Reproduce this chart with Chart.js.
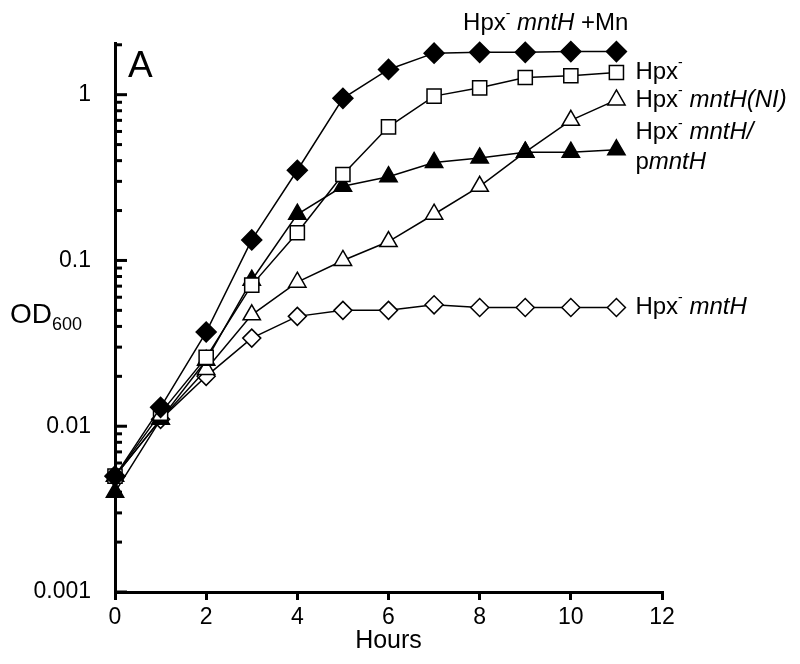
<!DOCTYPE html>
<html>
<head>
<meta charset="utf-8">
<script src="https://cdn.jsdelivr.net/npm/chart.js@4.4.1/dist/chart.umd.min.js"></script>
<style>
  html, body { margin: 0; padding: 0; background: #fff; }
</style>
</head>
<body>
<canvas id="chart" width="800" height="664"></canvas>
<script>
'use strict';

var FONT = '"Liberation Sans", Arial, sans-serif';

// growth curves, OD600 per hour
var hours = [0, 1, 2, 3, 4, 5, 6, 7, 8, 9, 10, 11];
var mntHMn = [0.005, 0.013, 0.037, 0.133, 0.35, 0.95, 1.42, 1.78, 1.8, 1.8, 1.82, 1.82];
var hpx = [0.005, 0.012, 0.026, 0.071, 0.147, 0.33, 0.64, 0.98, 1.1, 1.27, 1.3, 1.36];
var mntHNI = [0.005, 0.011, 0.022, 0.047, 0.074, 0.1, 0.13, 0.19, 0.28, 0.45, 0.70, 0.93];
var mntHComp = [0.004, 0.011, 0.025, 0.076, 0.19, 0.28, 0.32, 0.39, 0.415, 0.45, 0.45, 0.465];
var mntH = [0.005, 0.011, 0.020, 0.034, 0.046, 0.050, 0.050, 0.054, 0.052, 0.052, 0.052, 0.052];

var xTicks = [0, 2, 4, 6, 8, 10, 12];
var yLabels = [0.001, 0.01, 0.1, 1];

function pts(vals) {
    return vals.map(function(v, i) { return {x: hours[i], y: v}; });
}

function series(label, vals, shape, filled, radius) {
    return {
        label: label,
        data: pts(vals),
        borderColor: '#000',
        borderWidth: 1.5,
        pointStyle: shape,
        pointRadius: radius,
        pointBorderColor: '#000',
        pointBorderWidth: 1.5,
        pointBackgroundColor: filled ? '#000' : '#fff',
        tension: 0,
        clip: false
    };
}

// text made of pieces: [text, 'n' normal | 'i' italic | 's' superscript]
function richWidth(ctx, parts, size) {
    var w = 0;
    parts.forEach(function(p) {
        ctx.font = pieceFont(p[1], size);
        w += ctx.measureText(p[0]).width;
    });
    return w;
}

function pieceFont(kind, size) {
    if (kind == 'i') return 'italic ' + size + 'px ' + FONT;
    if (kind == 's') return Math.round(size * 0.6) + 'px ' + FONT;
    return size + 'px ' + FONT;
}

function drawRich(ctx, parts, x, y, size, align) {
    var w = richWidth(ctx, parts, size);
    var cx = align == 'right' ? x - w : x;
    ctx.textBaseline = 'middle';
    ctx.textAlign = 'left';
    parts.forEach(function(p) {
        ctx.font = pieceFont(p[1], size);
        ctx.fillText(p[0], cx, p[1] == 's' ? y - size * 0.38 : y);
        cx += ctx.measureText(p[0]).width;
    });
}

var extras = {
    id: 'extras',
    afterDraw: function(chart) {
        var ctx = chart.ctx, xs = chart.scales.x, ys = chart.scales.y;
        var left = chart.chartArea.left;
        ctx.save();
        ctx.fillStyle = '#000';
        ctx.strokeStyle = '#000';

        // inward log ticks on the y axis
        ctx.lineWidth = 3;
        yLabels.forEach(function(d) {
            for (var m = 1; m <= 9; m++) {
                var v = d * m;
                if (v > 2.0001) break;
                var py = ys.getPixelForValue(v);
                ctx.beginPath();
                ctx.moveTo(left, py);
                ctx.lineTo(left + (m == 1 ? 12 : 7), py);
                ctx.stroke();
            }
        });

        // panel letter
        ctx.font = '37px ' + FONT;
        ctx.textAlign = 'left';
        ctx.textBaseline = 'alphabetic';
        ctx.fillText('A', left + 13, 77);

        // horizontal y axis title with subscript
        ctx.font = '28px ' + FONT;
        ctx.fillText('OD', 10, 323);
        var odw = ctx.measureText('OD').width;
        ctx.font = '18px ' + FONT;
        ctx.fillText('600', 10 + odw, 330);

        // curve labels
        var x11 = xs.getPixelForValue(11);
        var last = function(a) { return ys.getPixelForValue(a[a.length - 1]); };
        var S = 24;
        drawRich(ctx, [['Hpx', 'n'], ['-', 's'], [' ', 'n'], ['mntH', 'i'], [' +Mn', 'n']],
            x11 + 12, last(mntHMn) - 28, S, 'right');
        drawRich(ctx, [['Hpx', 'n'], ['-', 's']], x11 + 19, last(hpx), S);
        drawRich(ctx, [['Hpx', 'n'], ['-', 's'], [' ', 'n'], ['mntH(NI)', 'i']], x11 + 19, last(mntHNI), S);
        drawRich(ctx, [['Hpx', 'n'], ['-', 's'], [' ', 'n'], ['mntH/', 'i']], x11 + 19, last(mntHComp) - 17, S);
        drawRich(ctx, [['p', 'n'], ['mntH', 'i']], x11 + 19, last(mntHComp) + 13, S);
        drawRich(ctx, [['Hpx', 'n'], ['-', 's'], [' ', 'n'], ['mntH', 'i']], x11 + 19, last(mntH), S);
        ctx.restore();
    }
};

new Chart(document.getElementById('chart'), {
    type: 'line',
    data: {
        datasets: [
            series('Hpx- mntH +Mn', mntHMn, 'rectRot', true, 10),
            series('Hpx-', hpx, 'rect', false, 10),
            series('Hpx- mntH/pmntH', mntHComp, 'triangle', true, 10),
            series('Hpx- mntH(NI)', mntHNI, 'triangle', false, 10),
            series('Hpx- mntH', mntH, 'rectRot', false, 9)
        ]
    },
    options: {
        responsive: false,
        animation: false,
        events: [],
        layout: { padding: { top: 43, right: 138, left: 0, bottom: 0 } },
        plugins: { legend: { display: false }, tooltip: { enabled: false } },
        scales: {
            x: {
                type: 'linear',
                min: 0,
                max: 12,
                afterBuildTicks: function(s) {
                    s.ticks = xTicks.map(function(v) { return {value: v}; });
                },
                afterFit: function(s) { s.height = 72; },
                grid: { drawOnChartArea: false, drawTicks: true, tickLength: 8, lineWidth: 3, color: '#000' },
                border: { display: true, width: 3, color: '#000' },
                ticks: { color: '#000', font: { family: FONT, size: 23 }, padding: 4, maxRotation: 0 },
                title: { display: true, text: 'Hours', color: '#000', font: { family: FONT, size: 25 }, padding: { top: 0, bottom: 8 } }
            },
            y: {
                type: 'logarithmic',
                min: 0.001,
                max: 2.05,
                afterBuildTicks: function(s) {
                    s.ticks = yLabels.map(function(v) { return {value: v}; });
                },
                afterFit: function(s) { s.width = 115; },
                grid: { display: false },
                border: { display: true, width: 3, color: '#000' },
                ticks: {
                    color: '#000',
                    font: { family: FONT, size: 23 },
                    padding: 16,
                    callback: function(v) { return String(v); }
                }
            }
        }
    },
    plugins: [extras]
});
</script>
</body>
</html>
